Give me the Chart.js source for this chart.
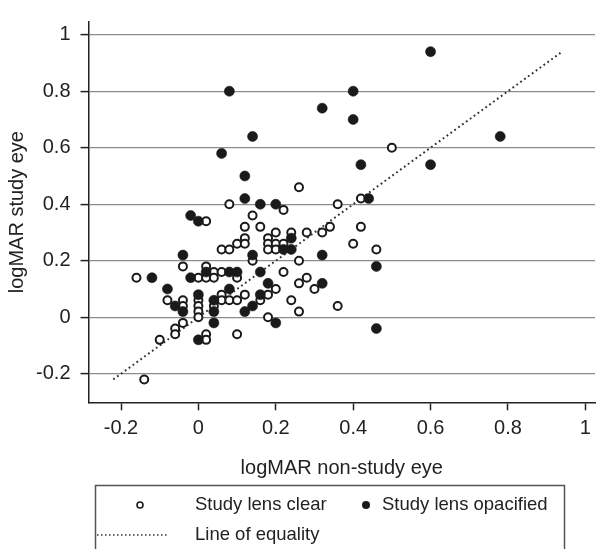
<!DOCTYPE html>
<html>
<head>
<meta charset="utf-8">
<script src="https://cdn.jsdelivr.net/npm/chart.js@4.4.0/dist/chart.umd.min.js"></script>
<style>
  html, body { margin: 0; padding: 0; background: #fff; }
  #wrap { width: 601px; height: 549px; }
</style>
</head>
<body>
<div id="wrap"><canvas id="scatter" width="601" height="549"></canvas></div>
<script>
// tick values on both axes
const xTicks = [-0.2, 0, 0.2, 0.4, 0.6, 0.8, 1];
const yTicks = [-0.2, 0, 0.2, 0.4, 0.6, 0.8, 1];

// [logMAR non-study eye, logMAR study eye]
const lensClear = [
  [-0.16, 0.14], [-0.14, -0.22], [-0.10, -0.08], [-0.08, 0.06], [-0.06, -0.04], [-0.06, -0.06],
  [-0.04, 0.18], [-0.04, 0.06], [-0.04, 0.04], [-0.04, -0.02],
  [0, 0.14], [0, 0.06], [0, 0.04], [0, 0.02], [0, 0],
  [0.02, 0.34], [0.02, 0.18], [0.02, 0.14], [0.02, -0.06], [0.02, -0.08],
  [0.04, 0.16], [0.04, 0.14], [0.04, 0.04],
  [0.06, 0.24], [0.06, 0.16], [0.06, 0.08], [0.06, 0.06],
  [0.08, 0.40], [0.08, 0.24], [0.08, 0.06],
  [0.10, 0.26], [0.10, 0.14], [0.10, 0.06], [0.10, -0.06],
  [0.12, 0.32], [0.12, 0.28], [0.12, 0.26], [0.12, 0.08],
  [0.14, 0.36], [0.14, 0.20], [0.16, 0.32], [0.16, 0.06],
  [0.18, 0.28], [0.18, 0.26], [0.18, 0.24], [0.18, 0.08], [0.18, 0],
  [0.20, 0.30], [0.20, 0.26], [0.20, 0.24], [0.20, 0.10],
  [0.22, 0.38], [0.22, 0.26], [0.22, 0.16],
  [0.24, 0.30], [0.24, 0.06],
  [0.26, 0.46], [0.26, 0.20], [0.26, 0.12], [0.26, 0.02],
  [0.28, 0.30], [0.28, 0.14], [0.30, 0.10], [0.32, 0.30], [0.34, 0.32],
  [0.36, 0.40], [0.36, 0.04], [0.40, 0.26], [0.42, 0.42], [0.42, 0.32],
  [0.46, 0.24], [0.50, 0.60]
];

const lensOpacified = [
  [-0.12, 0.14], [-0.08, 0.10], [-0.06, 0.04], [-0.04, 0.22], [-0.04, 0.02],
  [-0.02, 0.36], [-0.02, 0.14], [0, 0.34], [0, 0.08], [0, -0.08],
  [0.02, 0.16], [0.04, 0.06], [0.04, 0.02], [0.04, -0.02],
  [0.06, 0.58], [0.08, 0.80], [0.08, 0.16], [0.08, 0.10], [0.10, 0.16],
  [0.12, 0.50], [0.12, 0.42], [0.12, 0.02],
  [0.14, 0.64], [0.14, 0.22], [0.14, 0.04],
  [0.16, 0.40], [0.16, 0.16], [0.16, 0.08], [0.18, 0.12],
  [0.20, 0.40], [0.20, -0.02], [0.22, 0.24], [0.24, 0.28], [0.24, 0.24],
  [0.32, 0.74], [0.32, 0.22], [0.32, 0.12],
  [0.40, 0.80], [0.40, 0.70], [0.42, 0.54], [0.44, 0.42],
  [0.46, 0.18], [0.46, -0.04],
  [0.60, 0.94], [0.60, 0.54], [0.78, 0.64]
];

// ends of the line of equality (x = y)
const equalityEnds = [-0.22, 0.94];

const seriesLabels = ['Study lens clear', 'Study lens opacified', 'Line of equality'];

const FONT = '"Liberation Sans", Arial, Helvetica, sans-serif';
const INK = '#1a1a1a';

// legend with a frame, like the printed figure
const boxLegend = {
  id: 'boxLegend',
  afterDraw(chart) {
    const ctx = chart.ctx;
    ctx.save();
    ctx.strokeStyle = '#555';
    ctx.lineWidth = 1.5;
    ctx.strokeRect(95.5, 485.5, 469, 90);

    ctx.font = '18.5px ' + FONT;
    ctx.fillStyle = '#222';
    ctx.textBaseline = 'middle';
    ctx.textAlign = 'left';

    // open circle
    ctx.beginPath();
    ctx.arc(140, 505, 3, 0, Math.PI * 2);
    ctx.fillStyle = '#fff';
    ctx.fill();
    ctx.lineWidth = 1.6;
    ctx.strokeStyle = INK;
    ctx.stroke();
    ctx.fillStyle = '#222';
    ctx.fillText(chart.data.datasets[1].label, 195, 505);

    // filled circle
    ctx.beginPath();
    ctx.arc(366, 505, 4, 0, Math.PI * 2);
    ctx.fillStyle = INK;
    ctx.fill();
    ctx.fillStyle = '#222';
    ctx.fillText(chart.data.datasets[0].label, 382, 505);

    // dotted line
    ctx.beginPath();
    ctx.setLineDash([1.5, 2.5]);
    ctx.lineWidth = 1.5;
    ctx.strokeStyle = '#333';
    ctx.moveTo(97, 535);
    ctx.lineTo(168, 535);
    ctx.stroke();
    ctx.setLineDash([]);
    ctx.fillText(chart.data.datasets[2].label, 195, 535);
    ctx.restore();
  }
};

const ctx = document.getElementById('scatter').getContext('2d');
const chart = new Chart(ctx, {
  type: 'scatter',
  data: {
    datasets: [
      {
        label: seriesLabels[1],
        data: lensOpacified.map(p => ({x: p[0], y: p[1]})),
        pointRadius: 5,
        pointHoverRadius: 5,
        pointBackgroundColor: INK,
        pointBorderColor: INK,
        pointBorderWidth: 0.6,
        order: 1
      },
      {
        label: seriesLabels[0],
        data: lensClear.map(p => ({x: p[0], y: p[1]})),
        pointRadius: 4,
        pointHoverRadius: 4,
        pointBackgroundColor: '#fff',
        pointBorderColor: INK,
        pointBorderWidth: 2,
        order: 2
      },
      {
        type: 'line',
        label: seriesLabels[2],
        data: equalityEnds.map(v => ({x: v, y: v})),
        borderColor: '#333',
        borderWidth: 2,
        borderDash: [1.8, 3],
        pointRadius: 0,
        fill: false,
        order: 3
      }
    ]
  },
  options: {
    responsive: false,
    devicePixelRatio: 1,
    animation: false,
    layout: { padding: { top: 12, left: 0, right: 0, bottom: 0 } },
    plugins: {
      legend: { display: false },
      tooltip: { enabled: false }
    },
    scales: {
      x: {
        type: 'linear',
        min: -0.284,
        max: 1.025,
        afterBuildTicks: s => { s.ticks = xTicks.map(v => ({value: v})); },
        afterFit: s => { s.height = 146.7; },
        ticks: {
          color: '#222',
          font: { family: FONT, size: 20 },
          padding: 6,
          callback: v => String(v)
        },
        grid: {
          drawOnChartArea: false,
          drawTicks: true,
          tickLength: 8,
          tickColor: '#222',
          tickWidth: 1.5
        },
        border: { display: true, color: '#222', width: 1.5 },
        title: {
          display: true,
          text: 'logMAR non-study eye',
          color: '#222',
          font: { family: FONT, size: 20 },
          padding: { top: 0, bottom: 69 }
        }
      },
      y: {
        type: 'linear',
        min: -0.301,
        max: 1.045,
        afterBuildTicks: s => { s.ticks = yTicks.map(v => ({value: v})); },
        afterFit: s => { s.width = 88.5; },
        ticks: {
          color: '#222',
          font: { family: FONT, size: 20 },
          padding: 10,
          callback: v => String(v)
        },
        grid: {
          color: '#8c8c8c',
          lineWidth: 1.2,
          drawTicks: true,
          tickLength: 8,
          tickColor: '#222',
          tickWidth: 1.5
        },
        border: { display: true, color: '#222', width: 1.5 },
        title: {
          display: true,
          text: 'logMAR study eye',
          color: '#222',
          font: { family: FONT, size: 20 },
          padding: { top: 5, bottom: 0 }
        }
      }
    }
  },
  plugins: [boxLegend]
});
</script>
</body>
</html>
